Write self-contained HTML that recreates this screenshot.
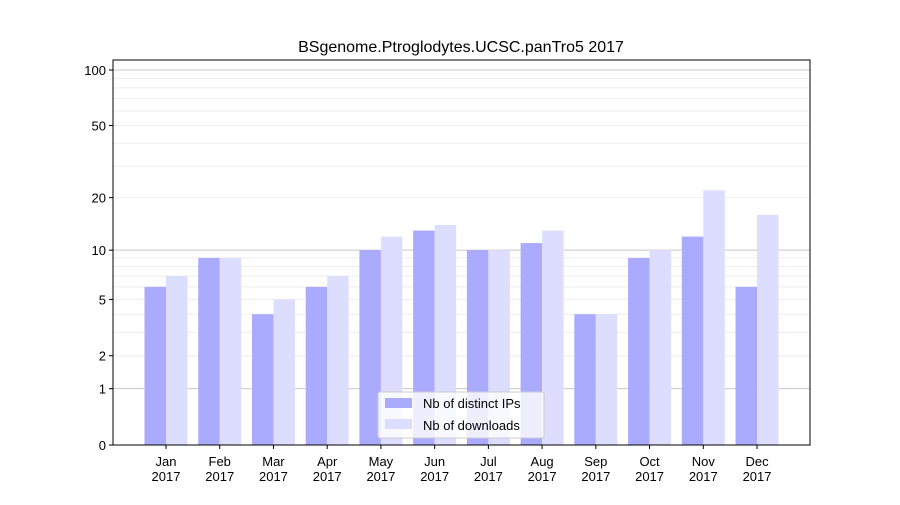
<!DOCTYPE html>
<html><head><meta charset="utf-8"><style>
body{margin:0;background:#fff;}
svg text{font-family:"Liberation Sans","DejaVu Sans",sans-serif;fill:#000;}
</style></head><body>
<svg id="chart" width="900" height="500" xmlns="http://www.w3.org/2000/svg">
<text x="461" y="52" text-anchor="middle" font-size="16">BSgenome.Ptroglodytes.UCSC.panTro5 2017</text>
<g id="grid"></g><g id="bars"></g><g id="axes"></g>
<g>
<rect x="378" y="392" width="166" height="46" fill="#fff" fill-opacity="0.8" stroke="#ccc" rx="2"/>
<rect x="385" y="398" width="27" height="10" fill="#aaaaff"/>
<text x="423" y="408" font-size="13">Nb of distinct IPs</text>
<rect x="385" y="419" width="27" height="10" fill="#ddddff"/>
<text x="423" y="430" font-size="13">Nb of downloads</text>
</g>
</svg>
<script>
const months=["Jan","Feb","Mar","Apr","May","Jun","Jul","Aug","Sep","Oct","Nov","Dec"];
const ips=[6,9,4,6,10,13,10,11,4,9,12,6];
const downloads=[7,9,5,7,12,14,10,13,4,10,22,16];
const yTicks=[0,1,2,5,10,20,50,100];
const NS="http://www.w3.org/2000/svg";
const L=113,R=810,T=60,B=445;
function y(v){return B-187.1*Math.log10(1+v);}
function xc(i){return 166+i*53.73;}
function mk(tag,attrs,parent){const e=document.createElementNS(NS,tag);for(const k in attrs)e.setAttribute(k,attrs[k]);parent.appendChild(e);return e;}
const grid=document.getElementById('grid'),bars=document.getElementById('bars'),axes=document.getElementById('axes');
// grid lines
for(const d of [1,10,100]){for(let m=1;m<10;m++){const v=d*m;if(v>113)continue;const gl=mk('line',{x1:L,x2:R,y1:y(v),y2:y(v),stroke:m===1?'#c8c8c8':'#eeeeee','stroke-width':1},grid);

}}
const bw=21.5;
months.forEach((m,i)=>{
 const r1=mk('rect',{x:xc(i)-bw,y:y(ips[i]),width:bw,height:B-y(ips[i]),fill:'#aaaaff'},bars);
 
 
 const r2=mk('rect',{x:xc(i),y:y(downloads[i]),width:bw,height:B-y(downloads[i]),fill:'#ddddff'},bars);
 
 
 mk('line',{x1:xc(i),x2:xc(i),y1:B,y2:B+4,stroke:'#000'},axes);
 const t=mk('text',{x:xc(i),y:B+21,'text-anchor':'middle','font-size':13},axes);
 t.textContent=m;
 
 
 const t2=mk('text',{x:xc(i),y:B+36,'text-anchor':'middle','font-size':13},axes);
 t2.textContent='2017';
 
 
});
yTicks.forEach(v=>{
 mk('line',{x1:L-4,x2:L,y1:y(v),y2:y(v),stroke:'#000'},axes);
 const t=mk('text',{x:L-7,y:y(v)+5,'text-anchor':'end','font-size':13},axes);
 t.textContent=v;
 
 
});
const fr=mk('rect',{x:L,y:T,width:R-L,height:B-T,fill:'none',stroke:'#000','stroke-width':1},axes);


</script>
</body></html>
